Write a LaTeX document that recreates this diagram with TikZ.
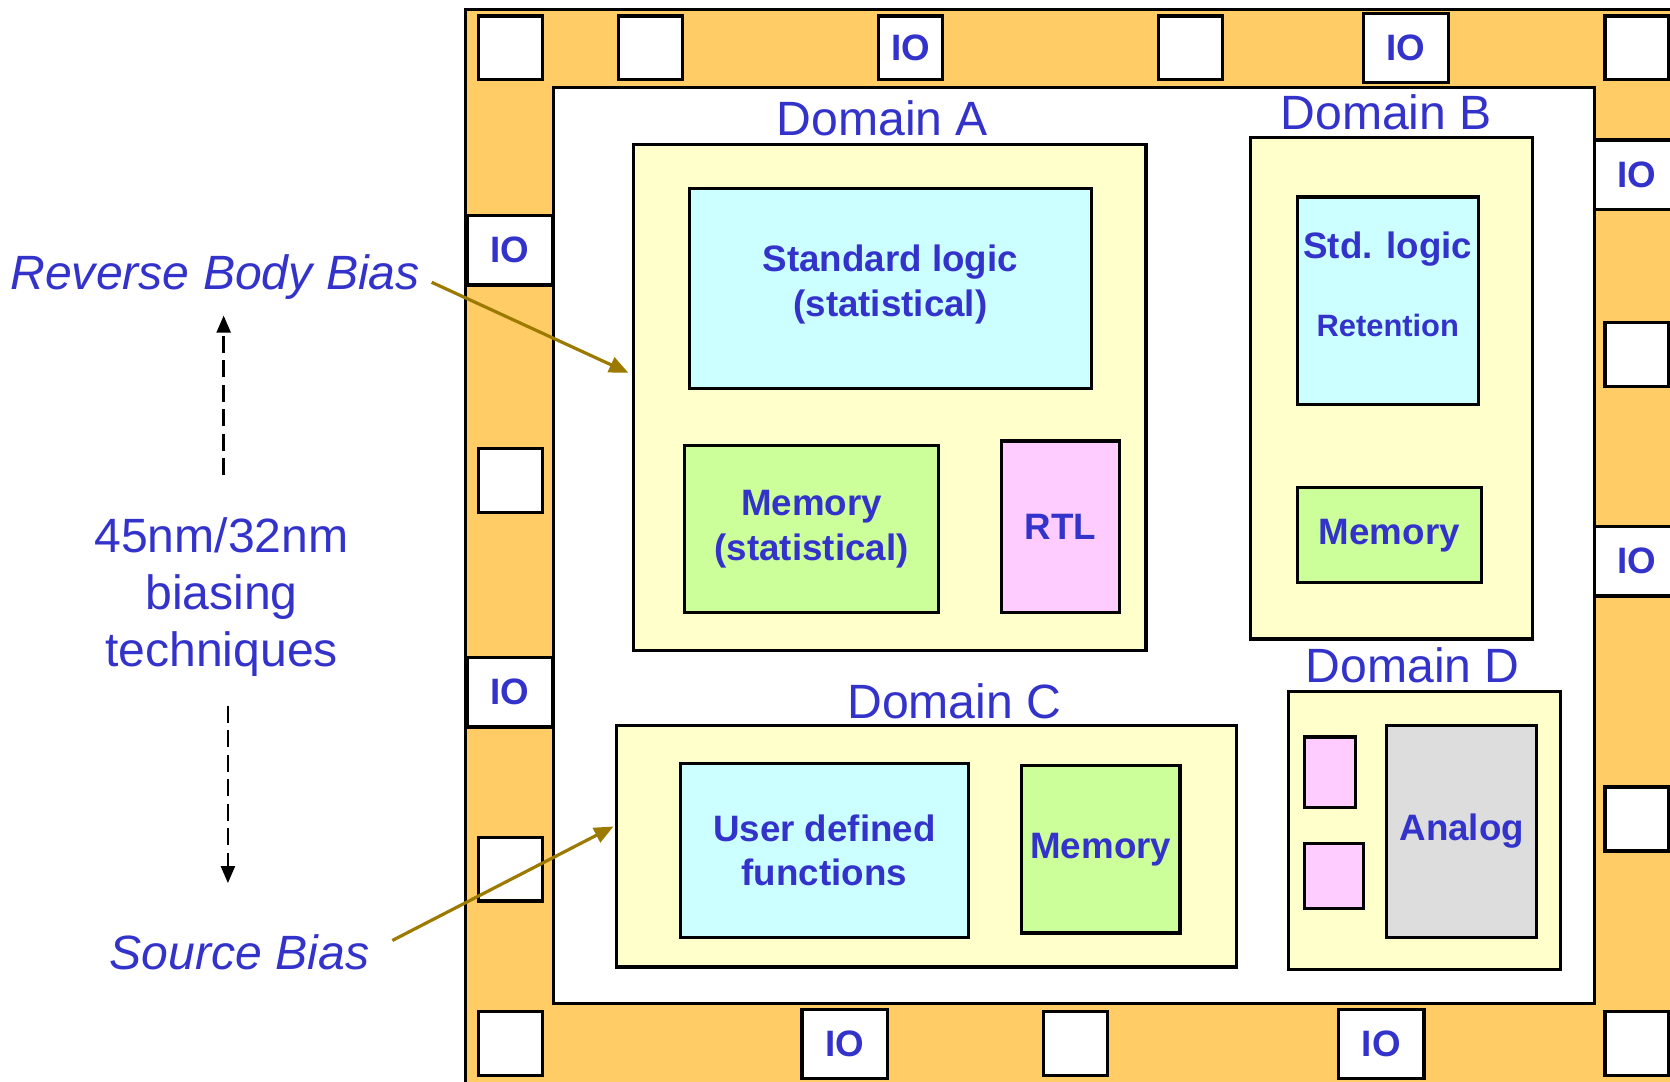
\documentclass[tikz,border=0pt]{standalone}
\usepackage{fontspec}
\setmainfont{Liberation Sans}
\usepackage{xcolor}
\usetikzlibrary{positioning,arrows.meta}
\definecolor{chiporange}{HTML}{FFCC66}
\definecolor{domfill}{HTML}{FFFFCC}
\definecolor{logicfill}{HTML}{CCFFFF}
\definecolor{memfill}{HTML}{CCFF99}
\definecolor{rtlfill}{HTML}{FFCCFF}
\definecolor{anafill}{HTML}{DDDDDD}
\definecolor{txtblue}{HTML}{3333CC}
\definecolor{biasolive}{HTML}{9C7A00}
\newcommand{\blkfont}{\fontsize{34.5}{42}\selectfont\bfseries}
\newcommand{\domfont}{\fontsize{45.2}{53.5}\selectfont}

\begin{document}
\begin{tikzpicture}[x=1pt,y=-1pt,
		pad/.style={draw,line width=3pt,fill=white,minimum width=60pt,minimum height=60pt,inner sep=0pt,text=txtblue,font=\blkfont},
		widepad/.style={pad,minimum width=80pt,minimum height=65pt},
		dom/.style={draw,line width=3pt,fill=domfill,inner sep=0pt},
		blk/.style={draw,line width=3pt,inner sep=0pt,align=center,text=txtblue,font=\blkfont},
		domlabel/.style={text=txtblue,font=\domfont,inner sep=0pt},
		sidetext/.style={text=txtblue,font=\domfont,inner sep=0pt,align=center},
		biasarrow/.style={draw=biasolive,line width=3pt,-{Triangle[length=18pt,width=15pt]}},
		dasharrow/.style={line width=2.5pt,dash pattern=on 16pt off 7pt,-{Triangle[length=16pt,width=13pt]}},
	]
	\useasboundingbox (0,0) rectangle (1568,1015);
	\clip (0,0) rectangle (1568,1015);
	\fill[white] (0,0) rectangle (1568,1015);
	% pad ring and core
	\filldraw[fill=chiporange,line width=3pt] (437,9) rectangle (1620,1040);
	\node[draw,line width=3pt,fill=white,minimum width=977pt,minimum height=860pt] (core) at (1008.5,512) {};
	\foreach \pname/\px/\py in {t1/479/45,t2/611/45,t4/1118/45,t6/1537/45,l2/479/451,l4/479/816,b1/479/980,b3/1010/980,b5/1537/980,r2/1537/333,r4/1537/769}
		\node[pad] (\pname) at (\px,\py) {};
	\node[pad] (t3) at (855,45) {IO};
	\foreach \pname/\px/\py in {t5/1320/45,l1/479/235,l3/479/650,b2/793/980,b4/1297/980,r1/1537/164,r3/1537/527}
		\node[widepad] (\pname) at (\px,\py) {IO};

	% domains
	\node[dom,minimum width=481pt,minimum height=475pt] (domA) at (835.5,373.5) {};
	\node[dom,minimum width=265pt,minimum height=471pt] (domB) at (1306.5,364.5) {};
	\node[dom,minimum width=582pt,minimum height=227pt] (domC) at (870,794.5) {};
	\node[dom,minimum width=255pt,minimum height=261pt] (domD) at (1337.5,779.5) {};
	\node[domlabel,above=7pt of domA.north,xshift=-7pt] (labA) {Domain A};
	\node[domlabel,above=5pt of domB.north,xshift=-5pt] (labB) {Domain B};
	\node[domlabel,above=4pt of domC.north,xshift=26pt] (labC) {Domain C};
	\node[domlabel,above=6pt of domD.north,xshift=-11pt] (labD) {Domain D};

	\node[blk,fill=logicfill,minimum width=378pt,minimum height=188pt,text depth=15pt] (stdA) at (836,271) {Standard logic\\(statistical)};
	\node[blk,fill=memfill,minimum width=238pt,minimum height=157pt] (memA) at (762,496.5) {Memory\\(statistical)};
	\node[blk,fill=rtlfill,minimum width=111pt,minimum height=161pt] (rtl) at (995.5,494.5) {RTL};
	\node[blk,fill=logicfill,minimum width=170pt,minimum height=195pt,text depth=31pt] (stdB) at (1303,282.5) {Std. logic\\[31pt]\fontsize{29}{34}\selectfont Retention};
	\node[blk,fill=memfill,minimum width=173pt,minimum height=89pt] (memB) at (1304.5,502.5) {Memory};
	\node[blk,fill=logicfill,minimum width=270pt,minimum height=163pt] (udf) at (774,798.5) {User defined\\functions};
	\node[blk,fill=memfill,minimum width=149pt,minimum height=157pt] (memC) at (1033.5,797.5) {Memory};
	\node[blk,fill=rtlfill,minimum width=48pt,minimum height=66pt] (pk1) at (1249,725) {};
	\node[blk,fill=rtlfill,minimum width=55pt,minimum height=61pt] (pk2) at (1252.5,822.5) {};
	\node[blk,fill=anafill,minimum width=141pt,minimum height=199pt] (analog) at (1372.5,780.5) {\raisebox{7pt}{Analog}};

	% biasing notes
	\node[sidetext,font=\domfont\itshape] (rbb) at (202,260) {Reverse Body Bias};
	\node[sidetext] (tech) at (208,561) {45nm/32nm\\biasing\\techniques};
	\node[sidetext,font=\domfont\itshape] (sb) at (225,894) {Source Bias};
	\coordinate (rbbtip) at (590,350);
	\coordinate (sbtip) at (576,776);
	\draw[biasarrow,shorten <=12pt] (rbb.east) -- (rbbtip);
	\draw[biasarrow,shorten <=24pt] (sb.east) -- (sbtip);
	\draw[dasharrow,shorten <=40pt,shorten >=15pt] ([xshift=2pt]tech.north) -- ([xshift=2pt]tech.north |- rbb.south);
	\draw[dasharrow,shorten <=27pt,shorten >=48pt] ([xshift=6pt]tech.south) -- ([xshift=6pt]tech.south |- sb.north);
\end{tikzpicture}
\end{document}
